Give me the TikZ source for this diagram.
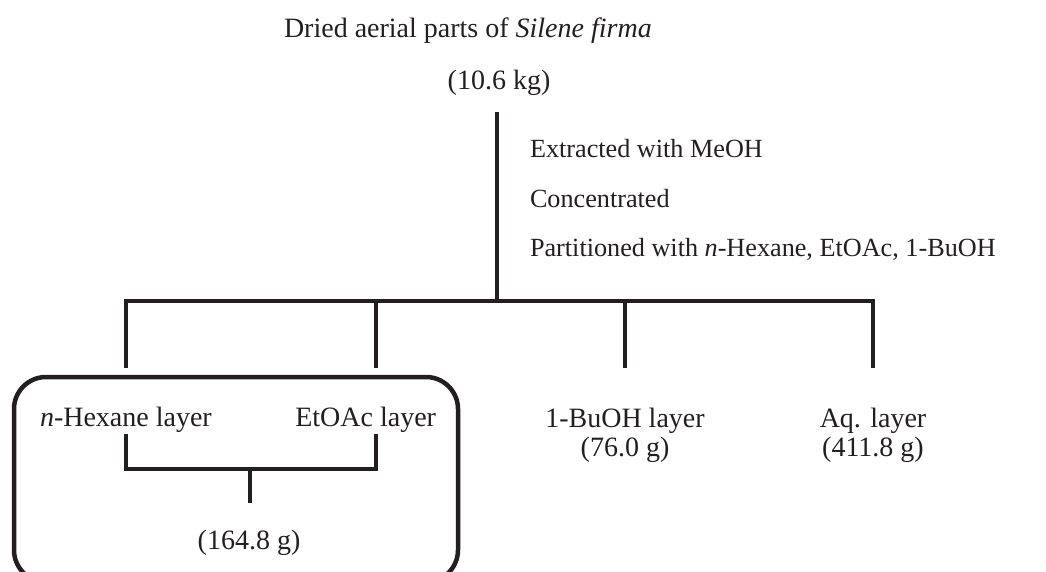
\documentclass[tikz,border=0pt]{standalone}
\usepackage{fontspec}
\setmainfont{Liberation Serif}
\definecolor{ink}{HTML}{231F20}
\begin{document}
\begin{tikzpicture}[x=1pt,y=-1pt,
  txt/.style={inner sep=0pt,outer sep=0pt,text=ink,font=\fontsize{28}{30}\selectfont},
  steptxt/.style={txt,anchor=base west,font=\fontsize{26.2}{28}\selectfont},
  ln/.style={draw=ink,line width=4pt,line join=miter},
  boxln/.style={draw=ink,line width=4.5pt,rounded corners=32pt}]
\useasboundingbox (0,0) rectangle (1046,571);
\begin{scope}
\clip (0,0) rectangle (1046,571);
% texts
\node[txt,anchor=base west] (src) at (284,37) {Dried aerial parts of \textit{Silene firma}};
\node[txt,anchor=base] (mass) at (499,89) {(10.6 kg)};
\node[steptxt] (s1) at (530,157) {Extracted with MeOH};
\node[steptxt] (s2) at (530,207) {Concentrated};
\node[steptxt] (s3) at (530,256) {Partitioned with \textit{n}-Hexane, EtOAc, 1-BuOH};
\node[txt,anchor=base west] (hex) at (40,426) {\textit{n}-Hexane layer};
\node[txt,anchor=base east] (eto) at (436,426) {EtOAc layer};
\node[txt,anchor=base] (comb) at (249,549) {(164.8 g)};
\node[txt,anchor=base] (bu) at (625,427) {1-BuOH layer};
\node[txt,anchor=base] (bum) at (625,456) {(76.0 g)};
\node[txt,anchor=base] (aq) at (873,427) {Aq. layer};
\node[txt,anchor=base] (aqm) at (873,456) {(411.8 g)};
% coordinates
\coordinate (top) at (497,112);
\coordinate (split) at (497,301);
\coordinate (dA) at (126,368);
\coordinate (dB) at (376,368);
\coordinate (dC) at (625,368);
\coordinate (dD) at (873,368);
\coordinate (hA) at (126,434);
\coordinate (hB) at (376,434);
\coordinate (jn) at (250,469);
\coordinate (jd) at (250,503);
% main trunk
\draw[ln] (top) -- (split);
\draw[ln] (dA) -- (dA |- split) -- (dD |- split) -- (dD);
\draw[ln] (dB |- split) -- (dB);
\draw[ln] (dC |- split) -- (dC);
% inner bracket
\draw[ln] (hA) -- (hA |- jn) -- (hB |- jn) -- (hB);
\draw[ln] (jn) -- (jd);
% rounded box
\draw[boxln] (14,377) rectangle (458,582);
\end{scope}
\end{tikzpicture}
\end{document}
